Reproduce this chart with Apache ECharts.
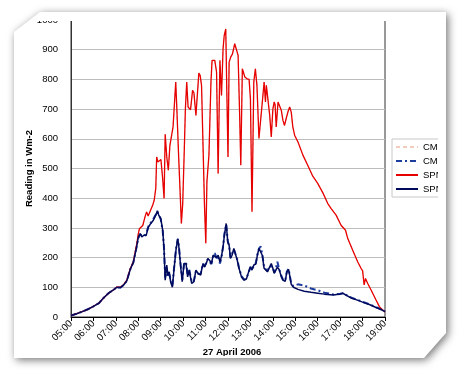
<!DOCTYPE html>
<html><head><meta charset="utf-8">
<script src="https://cdn.jsdelivr.net/npm/echarts@6/dist/echarts.min.js"></script>
<style>
html,body{margin:0;padding:0;background:#fff;width:461px;height:372px;overflow:hidden}
#shadow{position:absolute;left:0;top:0;width:461px;height:372px;filter:drop-shadow(2px 2px 4px rgba(0,0,0,0.55))}
#page{position:absolute;left:0;top:0;width:461px;height:372px;background:#fff;clip-path:polygon(14px 32px,40px 12px,446px 12px,446px 333px,424px 358px,14px 358px)}
#clip{position:absolute;left:16px;top:21px;width:422px;height:335px;overflow:hidden}
#chart{position:absolute;left:-16px;top:-21px;width:461px;height:372px}
</style></head>
<body>
<div id="shadow"><div id="page"></div></div>
<div id="clip"><div id="chart"></div></div>
<script>
const xTickLabels = ['05:00','06:00','07:00','08:00','09:00','10:00','11:00','12:00','13:00','14:00','15:00','16:00','17:00','18:00','19:00'];
const seriesNames = ['CMP11 Total','CMP6 Diffuse','SPN1 Total','SPN1 Diffuse'];

const spnTotal = [[5.0,5],[5.25,11],[5.5,18],[5.75,26],[6.0,36],[6.25,47],[6.45,64],[6.67,80],[6.89,91],[7.04,101],[7.12,103],[7.2,100],[7.34,108],[7.49,124],[7.64,162],[7.78,186],[7.93,245],[8.0,280],[8.05,297],[8.11,303],[8.2,308],[8.3,337],[8.37,354],[8.44,340],[8.52,346],[8.64,376],[8.71,393],[8.78,433],[8.82,539],[8.87,522],[8.94,528],[9.01,530],[9.08,472],[9.15,399],[9.2,615],[9.27,539],[9.34,494],[9.41,578],[9.48,580],[9.55,640],[9.67,791],[9.72,700],[9.8,540],[9.86,430],[9.92,315],[9.98,380],[10.05,560],[10.1,700],[10.16,791],[10.22,707],[10.33,698],[10.42,763],[10.48,755],[10.57,679],[10.7,821],[10.76,813],[10.82,780],[10.89,567],[10.95,380],[11.01,248],[11.06,455],[11.15,545],[11.24,791],[11.29,864],[11.41,864],[11.49,825],[11.56,483],[11.64,864],[11.71,746],[11.78,903],[11.83,947],[11.9,970],[11.95,750],[12.0,539],[12.05,858],[12.12,875],[12.2,886],[12.3,920],[12.38,915],[12.45,881],[12.52,679],[12.57,511],[12.64,836],[12.75,808],[12.85,802],[12.94,800],[13.0,735],[13.07,354],[13.15,791],[13.22,836],[13.29,780],[13.38,601],[13.46,605],[13.53,724],[13.61,791],[13.67,724],[13.71,780],[13.78,775],[13.86,679],[13.93,606],[14.0,700],[14.06,724],[14.1,715],[14.15,640],[14.23,724],[14.3,720],[14.38,695],[14.45,662],[14.52,645],[14.6,670],[14.67,690],[14.75,707],[14.82,690],[14.89,640],[14.97,612],[15.12,589],[15.34,545],[15.56,510],[15.78,474],[16.0,450],[16.23,418],[16.45,382],[16.6,365],[16.82,343],[16.97,320],[17.04,309],[17.12,304],[17.24,292],[17.34,264],[17.56,225],[17.78,186],[17.93,164],[18.0,156],[18.07,108],[18.13,130],[18.23,113],[18.38,91],[18.6,57],[18.75,35],[18.89,24],[19.0,17]];

const cmpTotal = [[5.0,5],[5.25,11],[5.5,18],[5.75,26],[6.0,36],[6.25,47],[6.45,64],[6.67,80],[6.89,91],[7.04,101],[7.12,103],[7.2,100],[7.34,108],[7.49,124],[7.64,162],[7.78,186],[7.93,245],[8.0,280],[8.05,297],[8.11,303],[8.2,308],[8.3,337],[8.37,354],[8.44,340],[8.52,346],[8.64,376],[8.71,393],[8.78,433],[8.82,539],[8.87,522],[8.94,528],[9.01,530],[9.08,472],[9.15,399],[9.2,615],[9.27,539],[9.34,494],[9.41,578],[9.48,580],[9.55,640],[9.67,791],[9.72,700],[9.8,540],[9.86,430],[9.92,315],[9.98,380],[10.05,560],[10.1,700],[10.16,791],[10.22,707],[10.33,698],[10.42,763],[10.48,755],[10.57,679],[10.7,821],[10.76,813],[10.82,780],[10.89,567],[10.95,380],[11.01,248],[11.06,455],[11.15,545],[11.24,791],[11.29,864],[11.41,864],[11.49,825],[11.56,483],[11.64,864],[11.71,746],[11.78,903],[11.83,947],[11.9,970],[11.95,750],[12.0,539],[12.05,858],[12.12,875],[12.2,886],[12.3,920],[12.38,915],[12.45,881],[12.52,679],[12.57,511],[12.64,836],[12.75,808],[12.85,802],[12.94,800],[13.0,735],[13.07,354],[13.15,791],[13.22,836],[13.29,780],[13.38,601],[13.46,605],[13.53,724],[13.61,791],[13.67,724],[13.71,780],[13.78,775],[13.86,679],[13.93,606],[14.0,700],[14.06,724],[14.1,715],[14.15,640],[14.23,724],[14.3,720],[14.38,695],[14.45,662],[14.52,645],[14.6,670],[14.67,690],[14.75,707],[14.82,690],[14.89,640],[14.97,612],[15.12,589],[15.34,545],[15.56,510],[15.78,474],[16.0,450],[16.23,418],[16.45,382],[16.6,365],[16.82,343],[16.97,320],[17.04,309],[17.12,304],[17.24,292],[17.34,264],[17.56,225],[17.78,186],[17.93,164],[18.0,156],[18.07,108],[18.13,130],[18.23,113],[18.38,91],[18.6,57],[18.75,35],[18.89,24],[19.0,17]];

const spnDiffuse = [[5.0,5],[5.25,11],[5.5,18],[5.75,26],[6.0,36],[6.25,47],[6.45,64],[6.67,80],[6.89,91],[7.04,100],[7.12,102],[7.2,99],[7.34,107],[7.49,122],[7.64,160],[7.78,184],[7.93,238],[8.0,268],[8.08,281],[8.16,270],[8.26,276],[8.35,274],[8.45,303],[8.56,315],[8.67,326],[8.78,343],[8.85,358],[8.91,343],[9.0,332],[9.09,292],[9.15,225],[9.2,124],[9.27,175],[9.32,141],[9.38,152],[9.44,119],[9.52,100],[9.59,158],[9.68,225],[9.76,264],[9.81,236],[9.89,169],[9.96,119],[10.04,180],[10.13,180],[10.2,135],[10.27,158],[10.38,113],[10.48,119],[10.57,158],[10.67,147],[10.78,141],[10.84,165],[10.89,180],[10.95,168],[11.04,182],[11.1,197],[11.19,190],[11.26,180],[11.34,208],[11.41,211],[11.49,200],[11.56,208],[11.64,186],[11.71,205],[11.78,236],[11.84,276],[11.92,315],[11.99,253],[12.05,242],[12.11,197],[12.18,208],[12.26,231],[12.33,225],[12.41,192],[12.49,164],[12.6,135],[12.72,124],[12.82,128],[12.92,152],[13.0,169],[13.07,158],[13.15,175],[13.24,178],[13.31,208],[13.38,231],[13.46,236],[13.53,208],[13.61,164],[13.68,165],[13.76,152],[13.86,169],[13.93,180],[14.0,164],[14.06,147],[14.12,152],[14.2,168],[14.28,160],[14.38,135],[14.45,124],[14.55,120],[14.62,150],[14.7,160],[14.75,140],[14.82,110],[14.92,100],[15.0,97],[15.12,93],[15.4,87],[15.7,83],[16.0,80],[16.3,77],[16.7,74],[16.85,76],[17.0,77],[17.12,80],[17.2,82],[17.28,73],[17.5,64],[17.8,56],[18.0,50],[18.3,42],[18.6,32],[18.8,26],[19.0,18]];

const cmpDiffuse = [[5.0,5],[5.25,11],[5.5,18],[5.75,26],[6.0,36],[6.25,47],[6.45,64],[6.67,80],[6.89,91],[7.04,100],[7.12,102],[7.2,99],[7.34,107],[7.49,122],[7.64,160],[7.78,184],[7.93,238],[8.0,265],[8.08,278],[8.16,272],[8.26,272],[8.35,280],[8.45,305],[8.56,318],[8.67,330],[8.78,345],[8.85,355],[8.91,345],[9.0,330],[9.09,290],[9.15,230],[9.2,130],[9.27,165],[9.32,135],[9.38,145],[9.44,125],[9.52,105],[9.59,160],[9.68,230],[9.76,262],[9.81,240],[9.89,175],[9.96,125],[10.04,178],[10.13,185],[10.2,140],[10.27,160],[10.38,118],[10.48,122],[10.57,155],[10.67,145],[10.78,145],[10.84,165],[10.89,178],[10.95,170],[11.04,185],[11.1,195],[11.19,185],[11.26,178],[11.34,205],[11.41,215],[11.49,198],[11.56,205],[11.64,180],[11.71,200],[11.78,238],[11.84,280],[11.92,312],[11.99,255],[12.05,240],[12.11,200],[12.18,205],[12.26,228],[12.33,228],[12.41,195],[12.49,166],[12.6,138],[12.72,126],[12.82,130],[12.92,150],[13.0,168],[13.07,160],[13.15,172],[13.24,182],[13.31,210],[13.38,230],[13.46,238],[13.53,210],[13.61,166],[13.68,168],[13.76,155],[13.86,172],[13.93,178],[14.0,166],[14.06,150],[14.12,158],[14.2,186],[14.28,162],[14.38,138],[14.45,126],[14.55,122],[14.62,152],[14.7,162],[14.75,142],[14.82,112],[14.92,104],[15.0,106],[15.12,110],[15.4,106],[15.7,96],[16.0,90],[16.3,82],[16.7,76],[16.85,77],[17.0,78],[17.12,80],[17.2,83],[17.28,74],[17.5,65],[17.8,57],[18.0,51],[18.3,43],[18.6,33],[18.8,27],[19.0,19]];

const FONT = 'Liberation Sans, Arial, sans-serif';
const chart = echarts.init(document.getElementById('chart'), null, {renderer: 'canvas'});
chart.setOption({
  animation: false,
  backgroundColor: 'transparent',
  grid: {left: 71, right: 76, top: 20, bottom: 55, show: true, borderColor: '#333', borderWidth: 1, backgroundColor: 'transparent'},
  legend: {
    orient: 'vertical', left: 392, top: 139,
    padding: [3, 30, 3, 3], itemGap: 4, itemWidth: 22, itemHeight: 10,
    borderColor: '#c8c8c8', borderWidth: 1, backgroundColor: '#fff',
    itemStyle: {opacity: 0},
    textStyle: {fontFamily: FONT, fontSize: 9.5, color: '#000'},
    data: seriesNames
  },
  xAxis: {
    type: 'value', min: 5, max: 19, interval: 1,
    name: '27 April 2006', nameLocation: 'middle', nameGap: 30, nameMoveOverlap: false,
    nameTextStyle: {fontFamily: FONT, fontSize: 9.5, fontWeight: 'bold', color: '#000', padding: [0, 0, 0, 8]},
    axisLine: {show: true, lineStyle: {color: '#000', width: 1}},
    axisTick: {show: true, length: 4, lineStyle: {color: '#000'}},
    splitLine: {show: false},
    axisLabel: {rotate: 45, margin: 5, fontFamily: FONT, fontSize: 9.8, color: '#000',
      formatter: v => xTickLabels[Math.round(v - 5)] || ''}
  },
  yAxis: {
    type: 'value', min: 0, max: 1000, interval: 100,
    name: 'Reading in Wm-2', nameLocation: 'middle', nameGap: 37, nameMoveOverlap: false,
    nameTextStyle: {fontFamily: FONT, fontSize: 9.5, fontWeight: 'bold', color: '#000'},
    axisLine: {show: true, lineStyle: {color: '#333', width: 1}},
    axisTick: {show: false},
    splitLine: {show: true, lineStyle: {color: '#bdbdbd', width: 1}},
    axisLabel: {margin: 13, fontFamily: FONT, fontSize: 9.5, color: '#000', formatter: v => String(v)}
  },
  series: [
    {name: seriesNames[0], type: 'line', data: cmpTotal, symbol: 'none', z: 1,
     lineStyle: {color: '#f2cbbd', width: 1, type: [4, 3]}, itemStyle: {color: '#f2cbbd'}},
    {name: seriesNames[1], type: 'line', data: cmpDiffuse, symbol: 'none', z: 2,
     lineStyle: {color: '#1c3c9e', width: 2, type: [6, 3, 2, 3]}, itemStyle: {color: '#1c3c9e'}},
    {name: seriesNames[2], type: 'line', data: spnTotal, symbol: 'none', z: 3,
     lineStyle: {color: '#e60000', width: 1.3}, itemStyle: {color: '#e60000'}},
    {name: seriesNames[3], type: 'line', data: spnDiffuse, symbol: 'none', z: 4,
     lineStyle: {color: '#000a5c', width: 1.5}, itemStyle: {color: '#000a5c'}}
  ]
});
</script>
</body></html>
